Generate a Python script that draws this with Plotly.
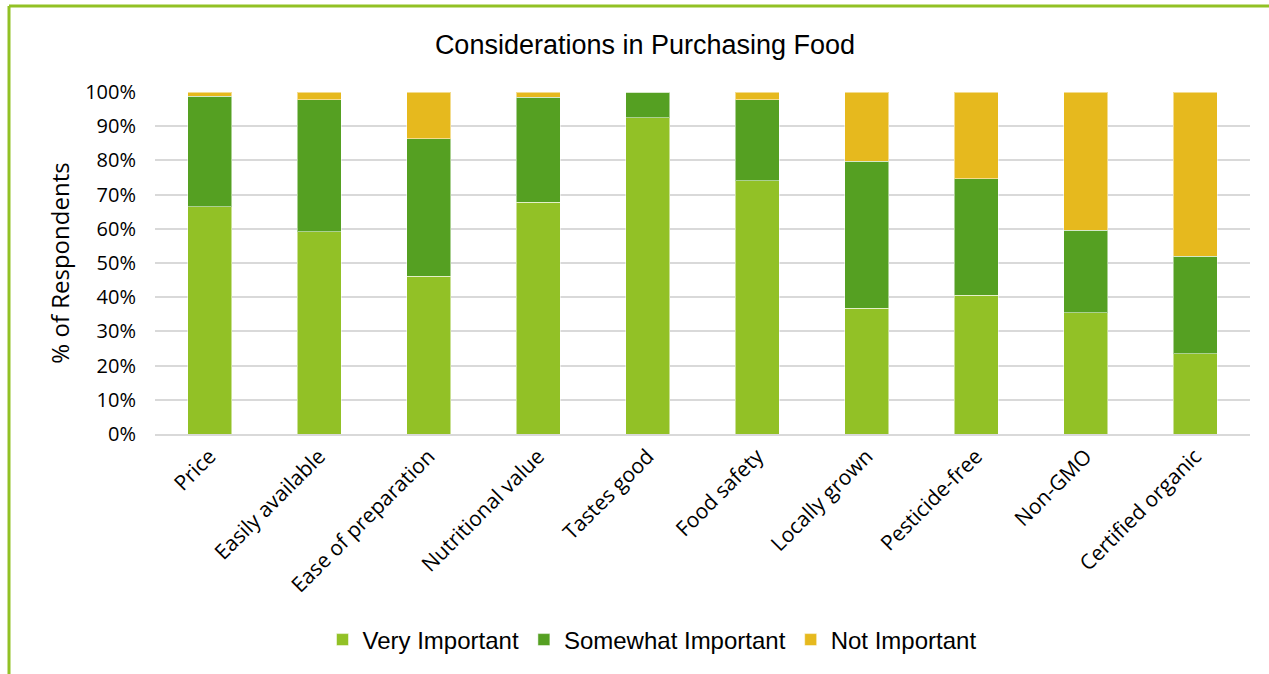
import plotly.graph_objects as go

categories = ["Price", "Easily available", "Ease of preparation", "Nutritional value",
              "Tastes good", "Food safety", "Locally grown", "Pesticide-free",
              "Non-GMO", "Certified organic"]
very_important = [66.4, 59.1, 46.2, 67.8, 92.4, 74.0, 36.8, 40.6, 35.4, 23.4]
somewhat_important = [32.4, 38.6, 40.1, 30.7, 7.6, 23.7, 43.0, 34.0, 24.2, 28.6]
not_important = [1.2, 2.3, 13.7, 1.5, 0.0, 2.3, 20.2, 25.4, 40.4, 48.0]

series_names = ["Very Important", "Somewhat Important", "Not Important"]
colors = ["#92C126", "#55A022", "#E6B91E"]

fig = go.Figure()
for name, vals, col in zip(series_names, [very_important, somewhat_important, not_important], colors):
    fig.add_trace(go.Bar(
        x=categories, y=vals, name=name,
        marker=dict(color=col, line=dict(color="rgba(255,255,255,0.5)", width=1)),
    ))

W, H = 1269, 674
L, R, T, B = 155, 19, 92, 240
pw, ph = W - L - R, H - T - B

def px(x):
    return (x - L) / pw

def py(y):
    return (H - B - y) / ph

fig.update_layout(
    width=W, height=H,
    barmode="stack", bargap=0.6,
    plot_bgcolor="white", paper_bgcolor="white",
    margin=dict(l=L, r=R, t=T, b=B, autoexpand=False),
    title=dict(text="Considerations in Purchasing Food", x=645 / W, xanchor="center",
               y=1 - 45 / H, yanchor="middle",
               font=dict(family="Liberation Sans, Arial, sans-serif", size=27, color="#000000")),
    font=dict(family="Open Sans, sans-serif", color="#000000"),
    legend=dict(orientation="h", x=px(652), xanchor="center", y=py(640), yanchor="middle",
                font=dict(family="Liberation Sans, Arial, sans-serif", size=24, color="#000000"),
                itemwidth=30, traceorder="normal"),
    yaxis=dict(range=[0, 100], tickvals=[0, 10, 20, 30, 40, 50, 60, 70, 80, 90, 100],
               ticktext=[f"{v}%" for v in range(0, 101, 10)],
               showgrid=True, gridcolor="#D9D9D9", gridwidth=1.5,
               zeroline=False, showline=False,
               tickfont=dict(size=20), ticks="", ticklen=0, ticklabelstandoff=18,
               title=dict(text="% of Respondents", font=dict(size=24), standoff=8)),
    xaxis=dict(tickangle=-45, tickfont=dict(size=21), showline=True,
               linecolor="#D9D9D9", linewidth=1.5, ticks=""),
    shapes=[
        dict(type="line", xref="paper", yref="paper", x0=px(9), x1=px(W + 5), y0=py(6), y1=py(6),
             line=dict(color="#92C125", width=3)),
        dict(type="line", xref="paper", yref="paper", x0=px(9), x1=px(9), y0=py(6), y1=py(H + 5),
             line=dict(color="#92C125", width=3)),
    ],
)

fig.write_html("out.html", config={"displayModeBar": False},
               post_script='document.body.style.margin="0";document.body.style.overflow="hidden";')
